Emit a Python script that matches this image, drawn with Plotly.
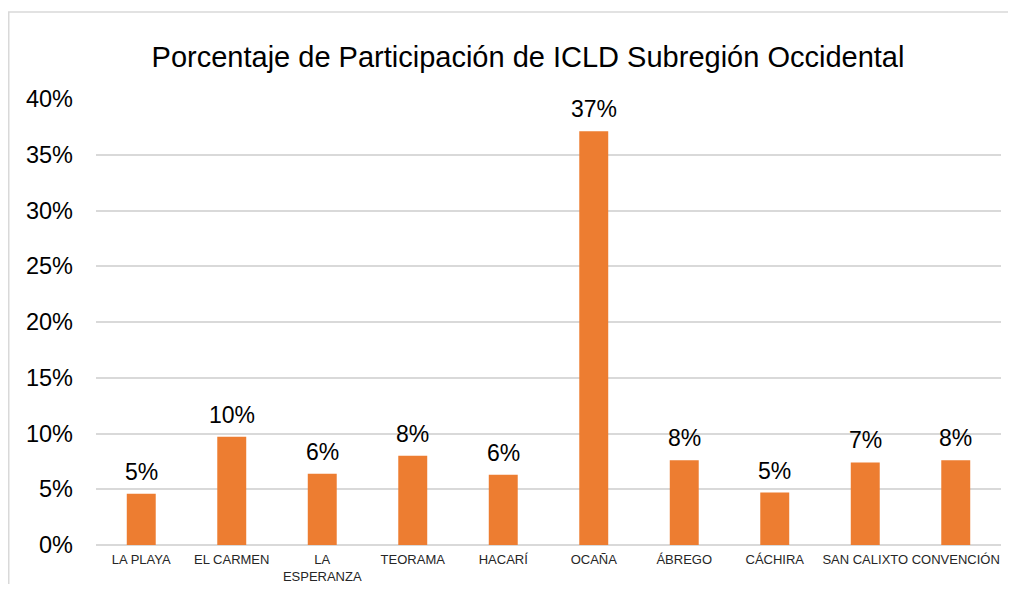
import plotly.graph_objects as go

categories = ["LA PLAYA", "EL CARMEN", "LA<br>ESPERANZA", "TEORAMA", "HACARÍ",
              "OCAÑA", "ÁBREGO", "CÁCHIRA", "SAN CALIXTO", "CONVENCIÓN"]
values = [0.046, 0.097, 0.064, 0.080, 0.063, 0.371, 0.076, 0.047, 0.074, 0.076]
tick_vals = [0, 0.05, 0.10, 0.15, 0.20, 0.25, 0.30, 0.35, 0.40]
title_text = "Porcentaje de Participación de ICLD Subregión Occidental"

# page has an 8px body margin; figure sized to fit the window
W, H = 1000, 576
ml, mr, mt, mb = 88, 7, 91, 39
pw, ph = W - ml - mr, H - mt - mb
FONT = "Liberation Sans, Arial"

fig = go.Figure(go.Bar(
    x=categories, y=values,
    marker=dict(color="#ED7D31", line=dict(width=0)),
    cliponaxis=False, width=0.32,
))

annotations = [dict(x=c, y=v, xref="x", yref="y", text=f"{round(v * 100):.0f}%",
                    showarrow=False, yanchor="bottom", yshift=7,
                    font=dict(family=FONT, size=23, color="#000000"))
               for c, v in zip(categories, values)]

fig.update_layout(
    width=W, height=H,
    margin=dict(l=ml, r=mr, t=mt, b=mb, autoexpand=False),
    paper_bgcolor="white", plot_bgcolor="white",
    title=dict(text=title_text, x=520 / W, xanchor="center", y=1 - 49 / H, yanchor="middle",
               font=dict(family=FONT, size=29, color="#000000")),
    showlegend=False,
    annotations=annotations,
    xaxis=dict(showgrid=False, showline=False, ticks="", ticklabelstandoff=5, automargin=False,
               tickfont=dict(family=FONT, size=13, color="#262626"),
               tickangle=0),
    yaxis=dict(range=[0, 0.40], tickvals=tick_vals, tickformat=".0%", automargin=False,
               showgrid=True, gridcolor="#d9d9d9", gridwidth=1.5,
               zeroline=True, zerolinecolor="#d9d9d9", zerolinewidth=1.5,
               showline=False, ticks="", ticklabelstandoff=22,
               tickfont=dict(family=FONT, size=23.5, color="#000000")),
    shapes=[dict(type="rect", xref="paper", yref="paper",
                 x0=(0.75 - ml) / pw, x1=(W + 20 - ml) / pw,
                 y0=-(mb + 20) / ph, y1=(H - mb - 4) / ph,
                 line=dict(color="#d9d9d9", width=1.5), fillcolor="rgba(0,0,0,0)", layer="below")],
)

fig.write_html("out.html")
